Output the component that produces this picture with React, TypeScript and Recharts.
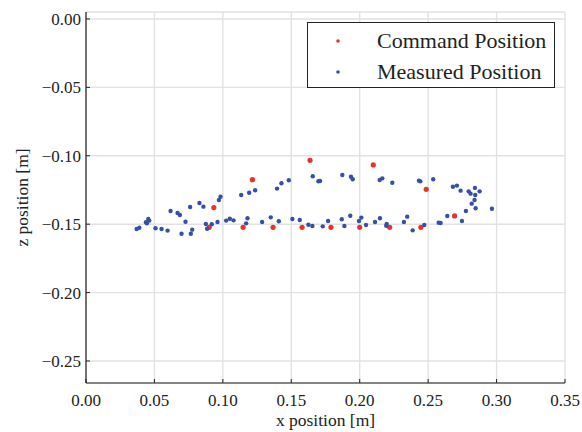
import React from 'react';
import { ScatterChart, Scatter, XAxis, YAxis, CartesianGrid, Legend, Label } from 'recharts';

// Posições medidas (x, z) em metros
const measuredX = [
  0.037, 0.039, 0.0438, 0.0455, 0.0462, 0.0445, 0.0508, 0.0552, 0.0596, 0.0618,
  0.0669, 0.0686, 0.0698, 0.0727, 0.0761, 0.0766, 0.0776, 0.0829, 0.0858, 0.0876,
  0.0885, 0.0919, 0.0961, 0.0971, 0.0983, 0.1024, 0.1051, 0.1078, 0.1134, 0.117,
  0.118, 0.1192, 0.1236, 0.1287, 0.135, 0.1396, 0.1428, 0.1409, 0.1482, 0.1508,
  0.1562, 0.1625, 0.1654, 0.1657, 0.1698, 0.171, 0.173, 0.1769, 0.1869, 0.1873,
  0.1888, 0.1931, 0.1936, 0.1949, 0.1995, 0.2012, 0.2046, 0.2112, 0.2146, 0.2165,
  0.2148, 0.2197, 0.2194, 0.2238, 0.2323, 0.2347, 0.2387, 0.2433, 0.2443, 0.2472,
  0.2537, 0.2577, 0.2591, 0.264, 0.2681, 0.271, 0.2737, 0.2747, 0.2776, 0.2796,
  0.281, 0.2818, 0.2842, 0.2844, 0.2839, 0.2847, 0.2876, 0.2966,
];
const measuredZ = [
  -0.1535, -0.1526, -0.1486, -0.1462, -0.1474, -0.1494, -0.153, -0.1535, -0.1547, -0.1404,
  -0.1418, -0.1433, -0.157, -0.1482, -0.1374, -0.157, -0.154, -0.1345, -0.1372, -0.1499,
  -0.1533, -0.1501, -0.1484, -0.1323, -0.1299, -0.1474, -0.146, -0.1472, -0.1287, -0.1494,
  -0.1457, -0.127, -0.1252, -0.1484, -0.145, -0.124, -0.1201, -0.1479, -0.1179, -0.1462,
  -0.1469, -0.1504, -0.1513, -0.115, -0.1186, -0.1184, -0.1516, -0.1477, -0.1464, -0.114,
  -0.1513, -0.1438, -0.1153, -0.1172, -0.1477, -0.1452, -0.1506, -0.1484, -0.1177, -0.1165,
  -0.1457, -0.1499, -0.1511, -0.1197, -0.1484, -0.1445, -0.1545, -0.1182, -0.1187, -0.1506,
  -0.1172, -0.1489, -0.1491, -0.144, -0.1226, -0.1218, -0.1255, -0.1477, -0.1404, -0.126,
  -0.1277, -0.135, -0.1235, -0.1287, -0.1323, -0.1384, -0.126, -0.1387,
];

// Posições comandadas
const commandX = [0.09, 0.0934, 0.1148, 0.1216, 0.1367, 0.1579, 0.1637, 0.179, 0.2, 0.2099, 0.2219, 0.2447, 0.2486, 0.2693];
const commandZ = [-0.1523, -0.1379, -0.1523, -0.1175, -0.1523, -0.1523, -0.1033, -0.1523, -0.1523, -0.1067, -0.1523, -0.1523, -0.1245, -0.144];

const xTicks = [0, 0.05, 0.1, 0.15, 0.2, 0.25, 0.3, 0.35];
const zTicks = [0, -0.05, -0.1, -0.15, -0.2, -0.25];

const measuredData = measuredX.map((x, i) => ({ x, z: measuredZ[i] }));
const commandData = commandX.map((x, i) => ({ x, z: commandZ[i] }));

const FONT = "'Liberation Serif', 'Times New Roman', 'DejaVu Serif', serif";
const INK = '#222';
const RED = '#e8332a';
const BLUE = '#3450a8';

const txt = (size: number) => ({ fontFamily: FONT, fontSize: size, fill: INK });

const fmtZ = (v: number) => (v < 0 ? '\u2212' + Math.abs(v).toFixed(2) : v.toFixed(2));

// ticks para dentro, estilo matplotlib
const BottomTick = ({ x, y, payload }: any) => (
  <g>
    <line x1={x} x2={x} y1={y} y2={y - 4} stroke={INK} />
    <text x={x} y={y + 23} textAnchor="middle" style={txt(17)}>
      {payload.value.toFixed(2)}
    </text>
  </g>
);
const TopTick = ({ x, y }: any) => <line x1={x} x2={x} y1={y} y2={y + 4} stroke={INK} />;
const LeftTick = ({ x, y, payload }: any) => (
  <g>
    <line x1={x} x2={x + 4} y1={y} y2={y} stroke={INK} />
    <text x={x - 5} y={y + 6} textAnchor="end" style={txt(17)}>
      {fmtZ(payload.value)}
    </text>
  </g>
);
const RightTick = ({ x, y }: any) => <line x1={x} x2={x - 4} y1={y} y2={y} stroke={INK} />;

const dot = (r: number, fill: string) => (props: any) => (
  <circle cx={props.cx} cy={props.cy} r={r} fill={fill} />
);

const LegendBox = ({ payload }: any) => (
  <svg width={248} height={66} style={{ display: 'block' }}>
    <rect x={0.5} y={0.5} width={247} height={65} fill="#fff" stroke={INK} />
    {(payload || []).map((p: any, i: number) => (
      <g key={p.value}>
        <circle cx={31} cy={19 + i * 31} r={1.8} fill={p.color} />
        <text x={70} y={26 + i * 31} style={txt(22)}>
          {p.value}
        </text>
      </g>
    ))}
  </svg>
);

export default function App() {
  return (
    <div style={{ position: 'absolute', left: 0, top: 0, width: 582, height: 432, background: '#fff' }}>
      <ScatterChart width={582} height={432} margin={{ top: 12, right: 17, bottom: 0, left: 0 }}>
        <CartesianGrid xAxisId="b" yAxisId="l" stroke="#e2e2e2" strokeWidth={1.4} />
        <XAxis
          xAxisId="b"
          type="number"
          dataKey="x"
          domain={[0, 0.35]}
          ticks={xTicks}
          interval={0}
          allowDataOverflow
          height={49}
          tickSize={0}
          tickMargin={0}
          tick={<BottomTick />}
          axisLine={{ stroke: INK, strokeWidth: 1.2 }}
        >
          <Label
            content={({ viewBox }: any) => (
              <text x={viewBox.x + viewBox.width / 2} y={426} textAnchor="middle" style={txt(17.5)}>
                x position [m]
              </text>
            )}
          />
        </XAxis>
        <XAxis
          xAxisId="t"
          orientation="top"
          type="number"
          domain={[0, 0.35]}
          ticks={xTicks}
          interval={0}
          allowDataOverflow
          height={0}
          tickSize={0}
          tickMargin={0}
          tick={<TopTick />}
          axisLine={{ stroke: INK, strokeWidth: 1.2 }}
        />
        <YAxis
          yAxisId="l"
          type="number"
          dataKey="z"
          domain={[-0.2661, 0.0051]}
          ticks={zTicks}
          interval={0}
          allowDataOverflow
          width={86}
          tickSize={0}
          tickMargin={0}
          tick={<LeftTick />}
          axisLine={{ stroke: INK, strokeWidth: 1.2 }}
        >
          <Label
            content={({ viewBox }: any) => {
              const cy = viewBox.y + viewBox.height / 2;
              return (
                <text x={28} y={cy} transform={`rotate(-90, 28, ${cy})`} textAnchor="middle" style={txt(17.5)}>
                  z position [m]
                </text>
              );
            }}
          />
        </YAxis>
        <YAxis
          yAxisId="r"
          orientation="right"
          type="number"
          domain={[-0.2661, 0.0051]}
          ticks={zTicks}
          interval={0}
          allowDataOverflow
          width={0}
          tickSize={0}
          tickMargin={0}
          tick={<RightTick />}
          axisLine={{ stroke: INK, strokeWidth: 1.2 }}
        />
        <Scatter
          name="Command Position"
          data={commandData}
          xAxisId="b"
          yAxisId="l"
          fill={RED}
          shape={dot(2.6, RED)}
          isAnimationActive={false}
        />
        <Scatter
          name="Measured Position"
          data={measuredData}
          xAxisId="b"
          yAxisId="l"
          fill={BLUE}
          shape={dot(2.2, BLUE)}
          isAnimationActive={false}
        />
        <Legend
          layout="vertical"
          align="center"
          verticalAlign="middle"
          content={<LegendBox />}
          wrapperStyle={{ left: 307, top: 22, width: 248, height: 66 }}
        />
      </ScatterChart>
    </div>
  );
}
